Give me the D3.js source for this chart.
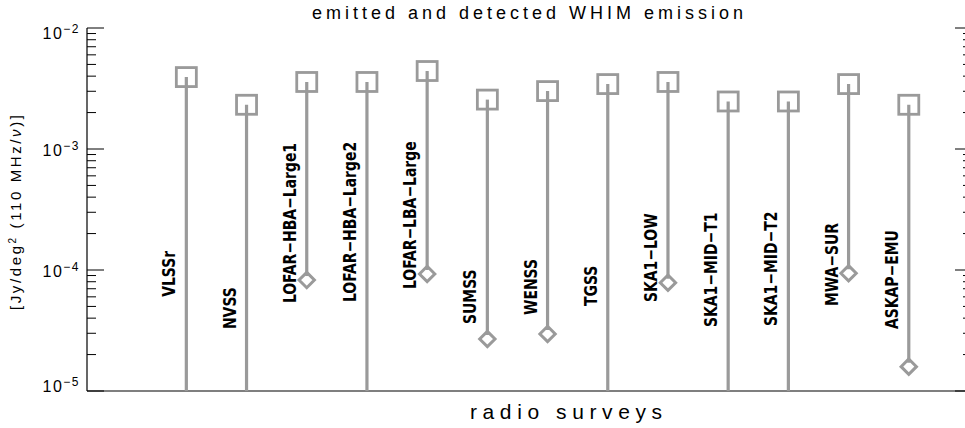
<!DOCTYPE html>
<html lang="en">
<head>
<meta charset="UTF-8">
<title>emitted and detected WHIM emission</title>
<script src="https://d3js.org/d3.v7.min.js"></script>
<style>
  body { margin: 0; background: #fff; }
  svg { display: block; }
  .title, .axis-title, .tick-label { font-family: "Liberation Sans", Arial, sans-serif; fill: #000; }
  .survey { font-family: "DejaVu Sans Condensed", "DejaVu Sans", sans-serif; font-weight: bold; font-size: 15.5px; fill: #000; }
</style>
</head>
<body>
<div id="chart"></div>
<script>
// radio surveys, left to right
const surveys = ["VLSSr", "NVSS", "LOFAR-HBA-Large1", "LOFAR-HBA-Large2", "LOFAR-LBA-Large",
  "SUMSS", "WENSS", "TGSS", "SKA1-LOW", "SKA1-MID-T1", "SKA1-MID-T2", "MWA-SUR", "ASKAP-EMU"];
// emitted WHIM emission (squares)
const emitted = [3.93e-3, 2.32e-3, 3.58e-3, 3.58e-3, 4.41e-3, 2.56e-3, 3.01e-3,
  3.44e-3, 3.58e-3, 2.47e-3, 2.47e-3, 3.44e-3, 2.32e-3];
// detected emission (diamonds), null = below the plot
const detected = [null, null, 8.26e-5, null, 9.27e-5, 2.69e-5, 2.96e-5,
  null, 7.85e-5, null, null, 9.4e-5, 1.59e-5];
// where each survey name starts, in data units
const labelAt = [6.0e-5, 3.25e-5, 5.33e-5, 5.44e-5, 6.97e-5, 3.58e-5, 4.25e-5,
  5.04e-5, 5.44e-5, 3.38e-5, 3.44e-5, 5.04e-5, 3.25e-5];
const yExponents = [-5, -4, -3, -2];

const width = 965, height = 428;
const m = { left: 87, right: 972, top: 28, bottom: 391 };
const grey = "#9a9a9a";

const svg = d3.select("#chart").append("svg")
  .attr("width", width)
  .attr("height", height);

const x = d3.scaleLinear().domain([-1.65, 13.05]).range([m.left, m.right]);
const y = d3.scaleLog().domain([1e-5, 1e-2]).range([m.bottom, m.top]);

// axes: left line, bottom line, ticks on left and (off-screen) right
svg.append("line").attr("x1", m.left).attr("x2", m.left).attr("y1", m.top).attr("y2", m.bottom)
  .attr("stroke", "#000").attr("stroke-width", 1.2);
svg.append("line").attr("x1", m.left).attr("x2", m.right).attr("y1", m.bottom).attr("y2", m.bottom)
  .attr("stroke", "#000").attr("stroke-width", 1.2);

const ticks = y.ticks();
const isMajor = t => Math.abs(Math.log10(t) - Math.round(Math.log10(t))) < 1e-6;

svg.selectAll(".ytick-l").data(ticks).enter().append("line")
  .attr("x1", m.left).attr("x2", d => m.left + (isMajor(d) ? 17 : 9))
  .attr("y1", d => y(d)).attr("y2", d => y(d))
  .attr("stroke", "#000").attr("stroke-width", 1);
svg.selectAll(".ytick-r").data(ticks).enter().append("line")
  .attr("x1", m.right).attr("x2", d => m.right - (isMajor(d) ? 17 : 9))
  .attr("y1", d => y(d)).attr("y2", d => y(d))
  .attr("stroke", "#000").attr("stroke-width", 1);

// tick labels 10^n
const tl = svg.selectAll(".tick-label").data(yExponents).enter().append("text")
  .attr("class", "tick-label")
  .attr("x", 80)
  .attr("y", d => Math.min(Math.max(y(Math.pow(10, d)) + 7, m.top + 11), m.bottom + 1))
  .attr("text-anchor", "end")
  .style("font-size", "16px")
  .style("letter-spacing", "1.5px");
tl.append("tspan").text("10");
tl.append("tspan").attr("dy", -6).style("font-size", "12px").text(d => "\u2212" + Math.abs(d));

// stems
svg.selectAll(".stem").data(surveys).enter().append("line")
  .attr("x1", (d, i) => x(i)).attr("x2", (d, i) => x(i))
  .attr("y1", (d, i) => y(emitted[i]))
  .attr("y2", (d, i) => detected[i] == null ? m.bottom : y(detected[i]) - 4)
  .attr("stroke", grey).attr("stroke-width", 3.2);

// emitted: open squares
svg.selectAll(".sq").data(surveys).enter().append("rect")
  .attr("x", (d, i) => x(i) - 10).attr("y", (d, i) => y(emitted[i]) - 9.5)
  .attr("width", 20).attr("height", 19)
  .attr("fill", "none").attr("stroke", grey).attr("stroke-width", 2.8);

// detected: diamonds
const diamond = d3.symbol().type(d3.symbolDiamond2).size(150);
svg.selectAll(".dm").data(surveys.map((s, i) => i).filter(i => detected[i] != null)).enter().append("path")
  .attr("d", diamond)
  .attr("transform", i => `translate(${x(i)},${y(detected[i])})`)
  .attr("fill", "none").attr("stroke", grey).attr("stroke-width", 3);

// survey names
svg.selectAll(".survey").data(surveys).enter().append("text")
  .attr("class", "survey")
  .attr("transform", (d, i) => `translate(${x(i) - 11},${y(labelAt[i])}) rotate(-90) scale(1,1.15)`)
  .text(d => d.replace(/-/g, "\u2212"));

// titles
svg.append("text").attr("class", "title")
  .attr("x", 312).attr("y", 18.5)
  .attr("textLength", 431).attr("lengthAdjust", "spacing")
  .style("font-size", "18px")
  .text("emitted and detected WHIM emission");

svg.append("text").attr("class", "axis-title")
  .attr("x", 470).attr("y", 419)
  .attr("textLength", 192).attr("lengthAdjust", "spacing")
  .style("font-size", "21px")
  .text("radio surveys");

const yt = svg.append("text").attr("class", "axis-title")
  .attr("transform", "translate(21,310) rotate(-90)")
  .attr("textLength", 195).attr("lengthAdjust", "spacing")
  .style("font-size", "15px");
yt.append("tspan").text("[Jy/deg");
yt.append("tspan").attr("dy", -5).style("font-size", "10px").text("2");
yt.append("tspan").attr("dy", 5).text(" (110 MHz/");
yt.append("tspan").style("font-style", "italic").text("\u03bd");
yt.append("tspan").text(")]");
</script>
</body>
</html>
